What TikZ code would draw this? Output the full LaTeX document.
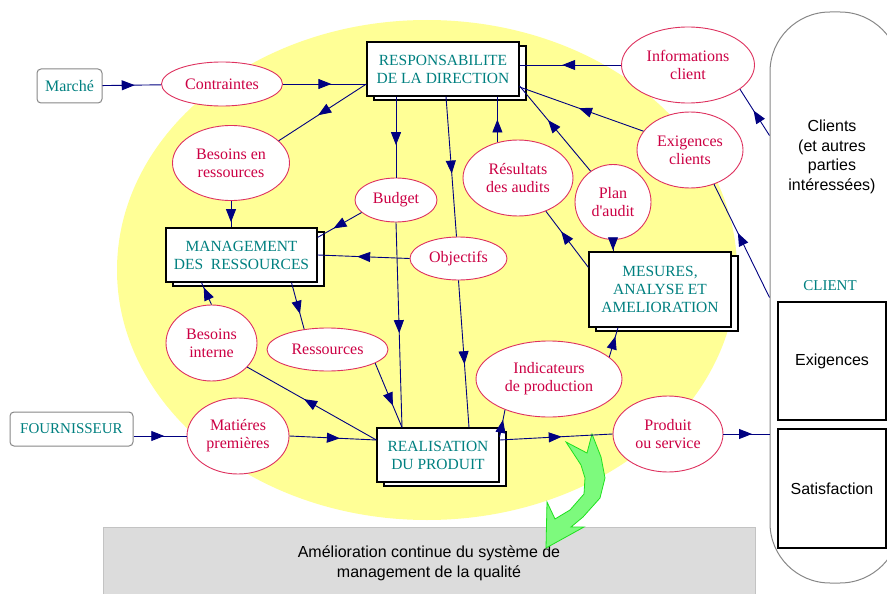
\documentclass[tikz,border=0pt]{standalone}
\usepackage{fontspec}
\setmainfont{Liberation Serif}
\setsansfont{Liberation Sans}
\usetikzlibrary{shapes.geometric,arrows.meta,decorations.markings,shadows}
\definecolor{labred}{RGB}{204,0,68}
\definecolor{edgered}{RGB}{222,50,95}
\definecolor{boxteal}{RGB}{0,128,128}
\definecolor{linenavy}{RGB}{0,0,128}
\definecolor{bgyellow}{RGB}{255,255,150}
\definecolor{boxgray}{RGB}{135,135,135}
\definecolor{improvgray}{RGB}{220,220,220}
\definecolor{improvedge}{RGB}{195,195,195}
\definecolor{greenfill}{RGB}{125,250,125}
\definecolor{greenedge}{RGB}{30,225,30}

\begin{document}
\begin{tikzpicture}[x=1pt, y=-1pt, every node/.style={font=\fontsize{16}{18}\selectfont},
  bulle/.style={draw=edgered, line width=0.9pt, fill=white, ellipse, inner sep=0pt, text=labred, align=center},
  pilote/.style={draw, line width=1.2pt, fill=white, text=boxteal, align=center, inner sep=0pt,
    font=\fontsize{15.5}{18}\selectfont, copy shadow={shadow xshift=7pt, shadow yshift=-4pt, draw, line width=1.2pt, fill=white}},
  acteur/.style={draw=boxgray, line width=1pt, rounded corners=4pt, fill=white, text=boxteal, inner sep=0pt},
  cadre/.style={draw, line width=1.2pt, fill=white, inner sep=0pt, font=\sffamily\fontsize{16}{18}\selectfont},
  flux/.style={color=linenavy, line width=0.9pt, postaction={decorate},
    decoration={markings, mark=at position #1 with {\arrow{Triangle[length=13pt,width=10pt]}}}},
  flux/.default=0.55]
\useasboundingbox (0,0) rectangle (887,594);
\fill[bgyellow] (427,270) ellipse [x radius=310pt, y radius=250pt];
\begin{scope}
\clip (0,0) rectangle (887,594);
\node[draw=improvedge, fill=improvgray, minimum width=652pt, minimum height=72pt, inner sep=0pt, align=center,
  font=\sffamily\fontsize{16}{20}\selectfont] (amelio) at (429,563) {Amélioration continue du système de\\management de la qualité};
\node[draw=boxgray, line width=1pt, rounded corners=60pt, minimum width=130pt, minimum height=571pt, inner sep=0pt] (clients) at (835,297.5) {};
\end{scope}
\filldraw[fill=greenfill, draw=greenedge, line width=0.8pt] (566,442) -- (581,465) -- (585,478) -- (584,494) -- (570,510)
  -- (555,519) -- (547,502) -- (546,548) -- (584,527) -- (571,527) -- (583,517) -- (600,498) -- (605,478)
  -- (601,457) -- (592,434) -- (587,453) -- cycle;

\node[acteur, minimum width=65pt, minimum height=34pt] (marche) at (69.5,86) {Marché};
\node[acteur, minimum width=123pt, minimum height=34pt, font=\fontsize{15}{18}\selectfont] (fourn) at (71.5,429) {FOURNISSEUR};
\node[bulle, minimum width=121pt, minimum height=44pt] (contr) at (222,84) {Contraintes};
\node[pilote, minimum width=152pt, minimum height=54pt] (resp) at (443,69) {RESPONSABILITE\\DE LA DIRECTION};
\node[bulle, minimum width=133pt, minimum height=76pt] (info) at (688,65) {Informations\\client};
\node[bulle, minimum width=106pt, minimum height=76pt] (exig) at (690,150) {Exigences\\clients};
\node[bulle, minimum width=117pt, minimum height=75pt] (besres) at (231,163) {Besoins en\\ressources};
\node[bulle, minimum width=82pt, minimum height=44pt] (budget) at (396,200) {Budget};
\node[bulle, minimum width=110pt, minimum height=76pt] (audits) at (518,178) {Résultats\\des audits};
\node[bulle, minimum width=76pt, minimum height=75pt] (plan) at (613,202) {Plan\\d\textquotesingle audit};
\node[pilote, minimum width=151pt, minimum height=54pt] (mgmt) at (241.5,255) {MANAGEMENT\\DES\ \ RESSOURCES};
\node[bulle, minimum width=97pt, minimum height=43pt] (obj) at (458.5,258.5) {Objectifs};
\node[pilote, minimum width=142pt, minimum height=75pt] (mesures) at (660,289.5) {MESURES,\\ANALYSE ET\\AMELIORATION};
\node[bulle, minimum width=91pt, minimum height=76pt] (besint) at (211.5,343) {Besoins\\interne};
\node[bulle, minimum width=121pt, minimum height=43pt] (ress) at (327.5,349.5) {Ressources};
\node[bulle, minimum width=146pt, minimum height=76pt] (indic) at (549,379) {Indicateurs\\de production};
\node[bulle, minimum width=102pt, minimum height=76pt] (mat) at (238,436) {Matiéres\\premières};
\node[pilote, minimum width=122pt, minimum height=54pt] (real) at (438,455) {REALISATION\\DU PRODUIT};
\node[bulle, minimum width=110pt, minimum height=76pt] (prod) at (668,434) {Produit\\ou service};

\node[align=center, font=\sffamily\fontsize{16}{19.5}\selectfont] (parties) at (832,157) {Clients\\(et autres\\parties\\intéressées)};
\node[text=boxteal, font=\fontsize{15}{18}\selectfont] (client) at (830,286) {CLIENT};
\node[cadre, minimum width=108pt, minimum height=118pt] (exigences) at (832,361) {Exigences};
\node[cadre, minimum width=108pt, minimum height=119pt] (satisf) at (832,488.5) {Satisfaction};

\draw[flux] (marche) -- (contr);
\draw[flux=0.58] (contr) -- (contr.east -| resp.west);
\draw[flux] ([yshift=-15pt]resp.west) -- (besres.25);
\draw[flux=0.58] (info.west) -- (info.west -| resp.east);
\draw[flux=0.52] (exig.158) -- ([yshift=-18pt]resp.east);
\draw[flux=0.54] ([yshift=162pt]clients.west) -- (info.-25);
\draw[flux=0.57] (clients.west) -- (exig.-55);
\draw[flux=0.5] (audits.120) -- (audits.120 |- resp.south);
\draw[flux=0.6] (plan.126) -- ([yshift=-17pt]resp.east);
\draw[flux=0.9] (plan.south) -- (plan.south |- mesures.north);
\draw[flux=0.64] ([yshift=-16pt]mesures.north west) -- (audits.-50);
\draw[flux=0.6] (budget.north |- resp.south) -- (budget.north);
\draw[flux=0.64] (budget.200) -- ([yshift=-10pt]mgmt.north east);
\draw[flux=0.8] (besres.south) -- (besres.south |- mgmt.north);
\draw[flux] ([xshift=3pt]resp.south) -- ([xshift=-2pt]obj.north);
\draw[flux=0.57] (obj.west) -- (mgmt.east);
\draw[flux=0.54] (budget.south) -- ([xshift=-36pt]real.north);
\draw[flux=0.57] (obj.south) -- ([xshift=31pt]real.north);
\draw[flux=0.67] ([xshift=50pt]mgmt.south) -- (ress.139);
\draw[flux=0.66] (ress.-16) -- ([xshift=-36pt]real.north);
\draw[flux=0.78] (besint.north) -- ([xshift=-40pt]mgmt.south);
\draw[flux=0.56] ([yshift=15pt]real.west) -- (besint.-34);
\draw[flux=0.58] (fourn.east |- mat.west) -- (mat.west);
\draw[flux=0.58] (mat.east) -- ([yshift=15pt]real.west);
\draw[flux=0.63] ([yshift=18pt]real.east) -- (indic.215);
\draw[flux=0.7] (indic.20) -- ([xshift=-42pt]mesures.south);
\draw[flux=0.55] ([yshift=15pt]real.east) -- (prod.west);
\draw[flux=0.62] (prod.east) -- (prod.east -| clients.west);
\end{tikzpicture}
\end{document}
